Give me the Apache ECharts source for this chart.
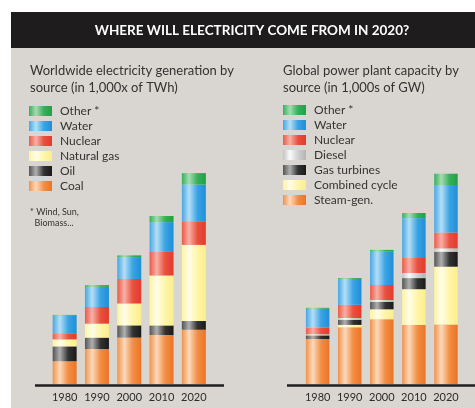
<!DOCTYPE html>
<html><head><meta charset="utf-8">
<script src="https://cdn.jsdelivr.net/npm/echarts@6/dist/echarts.min.js"></script>
<style>html,body{margin:0;padding:0;background:#fff}#c{width:475px;height:408px}</style>
</head><body><div id="c"></div>
<script>
const years = ['1980','1990','2000','2010','2020'];
// Left: electricity generation, 1,000s TWh
const coal      = [2.6, 4.0, 5.3, 5.6, 6.2];
const oil       = [1.7, 1.3, 1.4, 1.1, 1.0];
const natGas    = [0.8, 1.6, 2.5, 5.7, 8.7];
const nuclearG  = [0.7, 1.9, 2.8, 2.7, 2.7];
const waterG    = [2.0, 2.3, 2.5, 3.4, 4.2];
const otherG    = [0.1, 0.2, 0.2, 0.7, 1.3];
// Right: capacity, 1,000s GW
const steamGen  = [1.50, 1.89, 2.16, 1.97, 1.98];
const combCycle = [0.00, 0.08, 0.33, 1.19, 1.93];
const gasTurb   = [0.12, 0.17, 0.25, 0.37, 0.50];
const diesel    = [0.04, 0.06, 0.06, 0.17, 0.11];
const nuclearC  = [0.22, 0.44, 0.50, 0.50, 0.53];
const waterC    = [0.63, 0.86, 1.11, 1.33, 1.58];
const otherC    = [0.03, 0.03, 0.06, 0.17, 0.38];

const FONT = 'Lato';
function grad(c){
  return new echarts.graphic.LinearGradient(0,0,1,0,[
    {offset:0,color:c[0]},{offset:0.3,color:c[1]},{offset:0.65,color:c[2]},{offset:1,color:c[3]}]);
}
const C = {
  coal:['#f0924a','#fcd9bb','#f28e45','#ec7425'],
  oil:['#555555','#b0b0b0','#333333','#1a1a1a'],
  gas:['#fdf3a0','#fffde8','#fff5a8','#fbee8a'],
  nuc:['#ea5a48','#f7b0a5','#e9503e','#e23b2c'],
  water:['#45a7e3','#b5def6','#3aa3e4','#1f8fd8'],
  other:['#35b05a','#a5dcb0','#36b05a','#22a045'],
  diesel:['#c4c4c4','#fafafa','#d0d0d0','#b4b4b4']
};
function bar(name, data, col, idx){
  return {name, type:'bar', stack: idx===0?'L':'R', xAxisIndex:idx, yAxisIndex:idx,
    barWidth: idx===0?24:23.5, data, itemStyle:{color:grad(col)}, emphasis:{disabled:true}};
}
const chart = echarts.init(document.getElementById('c'), null, {renderer:'canvas'});
const xAx = (gi) => ({type:'category', gridIndex:gi, data:years, axisLine:{show:false}, axisTick:{show:false},
  axisLabel:{color:'#2b2b2b', fontFamily:FONT, fontSize:11, margin:8, interval:0}});
chart.setOption({
  animation:false,
  backgroundColor:'#ffffff',
  graphic:[
    {type:'rect', z:-10, shape:{x:11,y:48,width:464,height:360}, style:{fill:'#d9d6d1'}},
    {type:'rect', z:-10, shape:{x:11,y:12,width:464,height:36}, style:{fill:'#1e1c1c'}},
    {type:'text', x:252, y:31, style:{text:'WHERE WILL ELECTRICITY COME FROM IN 2020?', fill:'#ffffff',
      font:'bold 13.5px Lato', align:'center', verticalAlign:'middle'}},
    {type:'text', x:30, y:63, style:{text:'Worldwide electricity generation by\nsource (in 1,000x of TWh)', fill:'#333333',
      font:'13px Lato', lineHeight:16.5}},
    {type:'text', x:283, y:63, style:{text:'Global power plant capacity by\nsource (in 1,000s of GW)', fill:'#333333',
      font:'13px Lato', lineHeight:16.5}},
    {type:'text', x:30, y:207, style:{text:'* Wind, Sun,\n  Biomass...', fill:'#333333', font:'9px Lato', lineHeight:11}},
    {type:'line', shape:{x1:35,y1:385.5,x2:224,y2:385.5}, style:{stroke:'#1e1e1e', lineWidth:2.5}},
    {type:'line', shape:{x1:287,y1:385.5,x2:475,y2:385.5}, style:{stroke:'#1e1e1e', lineWidth:2.5}}
  ],
  legend:[
    {orient:'vertical', left:29, top:105, padding:0, itemWidth:23, itemHeight:10, itemGap:3, icon:'rect',
      selectedMode:false, data:['Other *','Water','Nuclear','Natural gas','Oil','Coal'],
      textStyle:{fontFamily:FONT, fontSize:12, color:'#333', lineHeight:12, padding:[0,0,0,3]}},
    {orient:'vertical', left:283, top:104, padding:0, itemWidth:23, itemHeight:10, itemGap:3, icon:'rect',
      selectedMode:false, data:['Other *','Water','Nuclear','Diesel','Gas turbines','Combined cycle','Steam-gen.'],
      textStyle:{fontFamily:FONT, fontSize:12, color:'#333', lineHeight:12, padding:[0,0,0,3]}}
  ],
  grid:[
    {left:48.5, top:139, width:161.5, height:245},
    {left:301.6, top:144, width:160.4, height:240}
  ],
  xAxis:[xAx(0), xAx(1)],
  yAxis:[
    {type:'value', gridIndex:0, min:0, max:28, show:false, splitLine:{show:false}},
    {type:'value', gridIndex:1, min:0, max:8, show:false, splitLine:{show:false}}
  ],
  series:[
    bar('Coal', coal, C.coal, 0),
    bar('Oil', oil, C.oil, 0),
    bar('Natural gas', natGas, C.gas, 0),
    bar('Nuclear', nuclearG, C.nuc, 0),
    bar('Water', waterG, C.water, 0),
    bar('Other *', otherG, C.other, 0),
    bar('Steam-gen.', steamGen, C.coal, 1),
    bar('Combined cycle', combCycle, C.gas, 1),
    bar('Gas turbines', gasTurb, C.oil, 1),
    bar('Diesel', diesel, C.diesel, 1),
    bar('Nuclear', nuclearC, C.nuc, 1),
    bar('Water', waterC, C.water, 1),
    bar('Other *', otherC, C.other, 1)
  ]
});
</script></body></html>
